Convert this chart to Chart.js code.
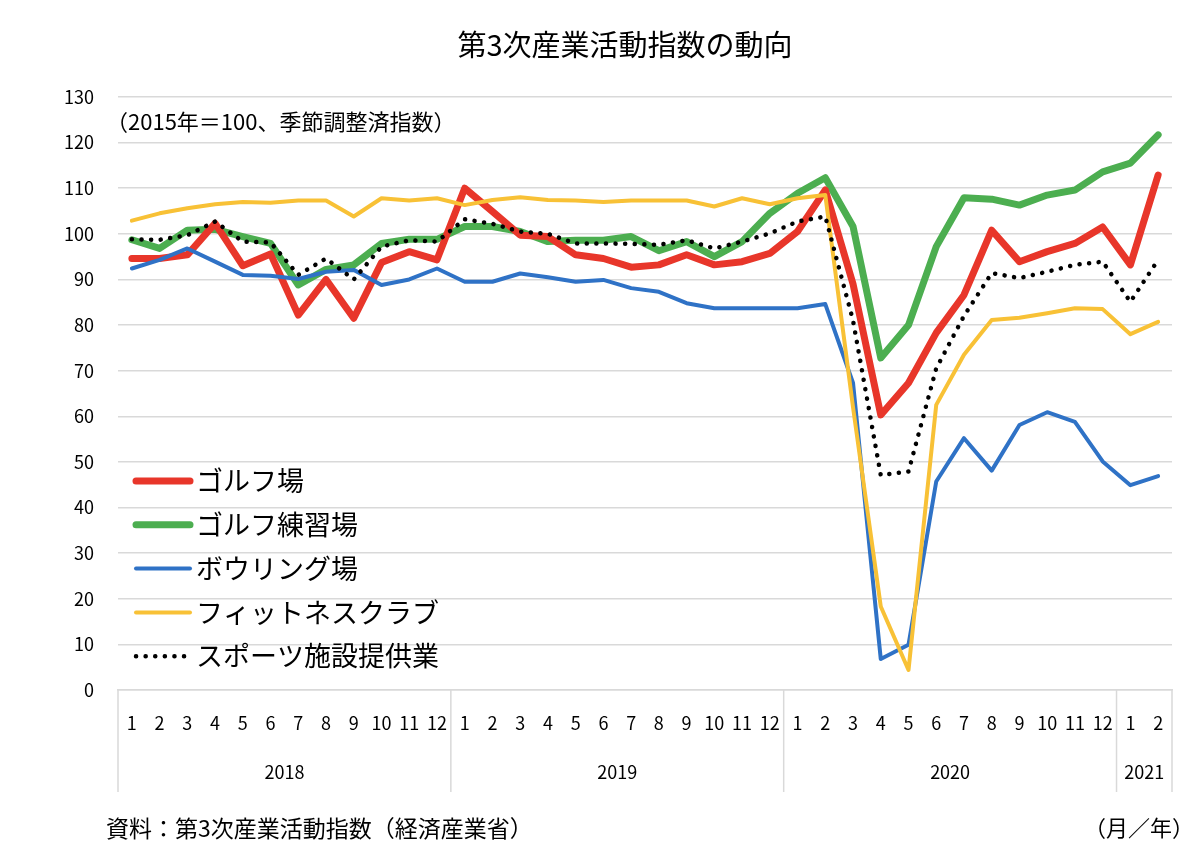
<!DOCTYPE html>
<html lang="ja">
<head>
<meta charset="utf-8">
<script src="https://cdn.jsdelivr.net/npm/chart.js@4.4.1/dist/chart.umd.min.js"></script>
<style>
  html, body { margin: 0; padding: 0; background: #fff; }
  #wrap { width: 1200px; height: 858px; }
</style>
</head>
<body>
<div id="wrap"><canvas id="chart" width="1200" height="858"></canvas></div>
<script>
const FONT = '"Noto Sans CJK JP", "Noto Sans", sans-serif';

// categories
const months = [
  "1","2","3","4","5","6","7","8","9","10","11","12",
  "1","2","3","4","5","6","7","8","9","10","11","12",
  "1","2","3","4","5","6","7","8","9","10","11","12",
  "1","2"
];
const years = ["2018", "2019", "2020", "2021"];
const monthsInYear = [12, 12, 12, 2];

// series (2015年=100, seasonally adjusted)
const golf = [
  94.6, 94.6, 95.4, 102.3, 93.0, 95.6, 82.2, 90.0, 81.5, 93.7, 96.1, 94.3,
  110.0, 104.9, 99.7, 99.4, 95.4, 94.6, 92.7, 93.2, 95.4, 93.2, 93.9, 95.7,
  100.5, 109.6, 89.0, 60.3, 67.3, 78.3, 86.6, 100.8, 93.9, 96.1, 97.9, 101.5,
  93.2, 112.9
];
const golfRange = [
  98.7, 96.8, 100.8, 101.0, 99.4, 97.9, 88.8, 92.2, 93.2, 97.9, 98.8, 98.8,
  101.6, 101.6, 100.5, 98.3, 98.6, 98.6, 99.4, 96.3, 98.3, 95.0, 98.3, 104.5,
  108.9, 112.3, 101.6, 72.8, 80.0, 97.2, 107.9, 107.6, 106.3, 108.5, 109.6, 113.6,
  115.5, 121.7
];
const bowling = [
  92.4, 94.3, 96.8, 93.9, 91.0, 90.8, 90.1, 91.7, 92.1, 88.8, 90.0, 92.4,
  89.5, 89.5, 91.3, 90.5, 89.5, 89.9, 88.1, 87.3, 84.8, 83.7, 83.7, 83.7,
  83.7, 84.6, 67.3, 6.8, 9.9, 45.7, 55.2, 48.1, 58.1, 60.9, 58.8, 50.1,
  44.9, 46.9
];
const fitness = [
  102.9, 104.5, 105.6, 106.5, 107.0, 106.8, 107.3, 107.3, 103.8, 107.8, 107.3, 107.8,
  106.3, 107.4, 108.0, 107.4, 107.3, 107.0, 107.3, 107.3, 107.3, 106.0, 107.8, 106.5,
  107.8, 108.5, 62.0, 18.3, 4.4, 62.5, 73.5, 81.1, 81.6, 82.6, 83.7, 83.5,
  78.0, 80.7
];
const sports = [
  98.8, 98.7, 99.7, 102.7, 98.3, 98.1, 91.0, 94.6, 90.0, 97.2, 98.6, 98.3,
  103.2, 102.2, 100.5, 100.0, 97.9, 97.9, 97.8, 97.6, 98.6, 96.8, 98.3, 100.1,
  102.7, 103.8, 81.0, 47.1, 47.9, 70.5, 82.0, 91.4, 90.3, 91.7, 93.2, 93.9,
  85.1, 94.3
];

const GRID = "#d9d9d9";

// title, note, legend, year boxes and footers
const extras = {
  id: "extras",
  afterDraw(chart) {
    const ctx = chart.ctx;
    const area = chart.chartArea;
    const xs = chart.scales.x;
    ctx.save();
    ctx.fillStyle = "#000";
    ctx.textBaseline = "middle";

    ctx.font = `29px ${FONT}`;
    ctx.textAlign = "center";
    ctx.fillText("第3次産業活動指数の動向", 625, 45);

    ctx.font = `22px ${FONT}`;
    ctx.textAlign = "left";
    ctx.fillText("（2015年＝100、季節調整済指数）", 106, 122);

    // legend
    chart.data.datasets.forEach((ds, i) => {
      const y = 481 + i * 43.8;
      ctx.save();
      ctx.strokeStyle = ds.borderColor;
      ctx.lineWidth = ds.borderWidth;
      ctx.lineCap = "round";
      ctx.setLineDash(ds.borderDash || []);
      ctx.beginPath();
      ctx.moveTo(136, y);
      ctx.lineTo(190, y);
      ctx.stroke();
      ctx.restore();
      ctx.font = `27px ${FONT}`;
      ctx.fillText(ds.label, 196, y);
    });

    // year grouping under the month labels
    ctx.strokeStyle = GRID;
    ctx.lineWidth = 1.5;
    let start = 0;
    const edges = [area.left];
    monthsInYear.forEach((n) => {
      const end = start + n;
      edges.push(end < months.length
        ? (xs.getPixelForValue(end - 1) + xs.getPixelForValue(end)) / 2
        : area.right);
      start = end;
    });
    edges.forEach((x) => {
      ctx.beginPath();
      ctx.moveTo(x, area.bottom);
      ctx.lineTo(x, 792);
      ctx.stroke();
    });
    ctx.font = `18px ${FONT}`;
    ctx.textAlign = "center";
    years.forEach((yr, i) => {
      ctx.fillText(yr, (edges[i] + edges[i + 1]) / 2, 772);
    });

    ctx.font = `23px ${FONT}`;
    ctx.textAlign = "left";
    ctx.fillText("資料：第3次産業活動指数（経済産業省）", 106, 828);
    ctx.font = `22px ${FONT}`;
    ctx.textAlign = "right";
    ctx.fillText("（月／年）", 1194, 828);
    ctx.restore();
  }
};

new Chart(document.getElementById("chart"), {
  type: "line",
  data: {
    labels: months,
    datasets: [
      { label: "ゴルフ場", data: golf, borderColor: "#e8362a", borderWidth: 7, order: 4 },
      { label: "ゴルフ練習場", data: golfRange, borderColor: "#4cae50", borderWidth: 7, order: 5 },
      { label: "ボウリング場", data: bowling, borderColor: "#2f72c6", borderWidth: 4, order: 3 },
      { label: "フィットネスクラブ", data: fitness, borderColor: "#f8c136", borderWidth: 4, order: 2 },
      { label: "スポーツ施設提供業", data: sports, borderColor: "#000", borderWidth: 4.5,
        borderDash: [0.1, 9.5], borderCapStyle: "round", order: 1 }
    ]
  },
  options: {
    responsive: false,
    animation: false,
    devicePixelRatio: 1,
    layout: { padding: { top: 97, right: 28, bottom: 0, left: 0 } },
    elements: {
      point: { radius: 0 },
      line: { tension: 0, borderJoinStyle: "round", borderCapStyle: "round", fill: false }
    },
    plugins: {
      legend: { display: false },
      title: { display: false },
      tooltip: { enabled: false }
    },
    scales: {
      x: {
        offset: true,
        grid: { display: false, drawTicks: false },
        border: { display: true, color: GRID, width: 1.5 },
        ticks: {
          color: "#000", autoSkip: false, maxRotation: 0, padding: 22,
          font: { family: FONT, size: 18 }
        },
        afterFit(s) { s.height = 168; }
      },
      y: {
        min: 0,
        max: 130,
        grid: { color: GRID, lineWidth: 1.5, drawTicks: false },
        border: { display: false },
        ticks: {
          stepSize: 10, color: "#000", padding: 24,
          font: { family: FONT, size: 18 }
        },
        afterFit(s) { s.width = 118; }
      }
    }
  },
  plugins: [extras]
});
</script>
</body>
</html>
